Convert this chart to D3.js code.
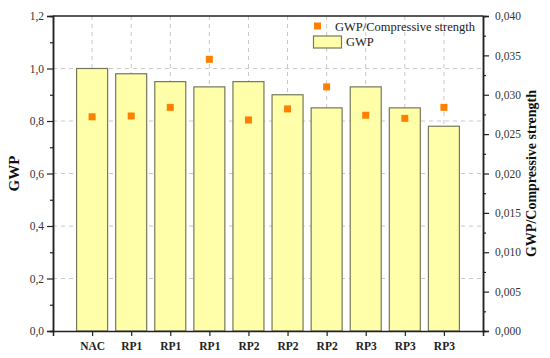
<!DOCTYPE html>
<html><head><meta charset="utf-8">
<script src="https://cdn.jsdelivr.net/npm/d3@7"></script>
<style>body{margin:0;background:#fff}svg{display:block}svg text{font-family:"Liberation Serif","Times New Roman",serif !important}</style>
</head><body>
<svg id="c" width="550" height="358"></svg>
<script>
const categories = ["NAC","RP1","RP1","RP1","RP2","RP2","RP2","RP3","RP3","RP3"];
const gwp = [1.00,0.98,0.95,0.93,0.95,0.90,0.85,0.93,0.85,0.78];
const gwpPerStrength = [0.0272,0.0273,0.0284,0.0345,0.0268,0.0282,0.0310,0.0274,0.0270,0.0284];
const leftTicks = [0,0.2,0.4,0.6,0.8,1.0,1.2];
const rightTicks = [0,0.005,0.010,0.015,0.020,0.025,0.030,0.035,0.040];

const svg = d3.select("#c");
const L=53, R=483, T=16, B=331;
const idx = d3.range(categories.length);
const x = d3.scalePoint().domain(idx).range([L,R]).padding(1);
const y = d3.scaleLinear().domain([0,1.2]).range([B,T]);
const y2 = d3.scaleLinear().domain([0,0.04]).range([B,T]);
const bw = 31;
const fmt = (d,n)=>d.toFixed(n).replace(".",",");

// grid
const g = svg.append("g");
g.selectAll(".vg").data(idx).join("line")
 .attr("x1",d=>x(d)).attr("x2",d=>x(d)).attr("y1",T).attr("y2",B)
 .attr("stroke","#c8c8c8").attr("stroke-dasharray","4,4").attr("stroke-width",1);
g.selectAll(".hg").data(leftTicks.filter(d=>d>0&&d<1.2)).join("line")
 .attr("x1",L).attr("x2",R).attr("y1",d=>y(d)).attr("y2",d=>y(d))
 .attr("stroke","#c8c8c8").attr("stroke-dasharray","4,4").attr("stroke-width",1);

// bars
svg.selectAll(".bar").data(gwp).join("rect")
 .attr("x",(d,i)=>x(i)-bw/2).attr("width",bw)
 .attr("y",d=>y(d)).attr("height",d=>B-y(d))
 .attr("fill","#ffffaa").attr("stroke","#77775a").attr("stroke-width",1.2);

// squares
const s=7;
svg.selectAll(".pt").data(gwpPerStrength).join("rect")
 .attr("x",(d,i)=>x(i)-s/2).attr("y",d=>y2(d)-s/2).attr("width",s).attr("height",s)
 .attr("fill","#ff7f00");

// axes
const ax = svg.append("g");
const leftAx = d3.axisLeft(y).tickValues(leftTicks).tickSize(6).tickPadding(3).tickFormat(d=>fmt(d,1));
ax.append("g").attr("class","ax").attr("transform",`translate(${L},0)`).call(leftAx);
const leftMinor = d3.axisLeft(y).tickValues(d3.range(0.1,1.2,0.2)).tickSize(3).tickFormat("");
ax.append("g").attr("transform",`translate(${L},0)`).call(leftMinor);
const rightAx = d3.axisRight(y2).tickValues(rightTicks).tickSize(6).tickPadding(6).tickFormat(d=>fmt(d,3));
ax.append("g").attr("class","ax").attr("transform",`translate(${R},0)`).call(rightAx);
const rightMinor = d3.axisRight(y2).tickValues(d3.range(0.0025,0.04,0.005)).tickSize(3).tickFormat("");
ax.append("g").attr("transform",`translate(${R},0)`).call(rightMinor);
const botAx = d3.axisBottom(x).tickSize(5).tickPadding(6).tickFormat(i=>categories[i]);
ax.append("g").attr("class","axb").attr("transform",`translate(0,${B})`).call(botAx);
ax.selectAll("g").attr("font-family",null);
ax.selectAll(".domain").attr("stroke","#222").attr("stroke-width",1.5);
ax.selectAll(".tick line").attr("stroke","#222").attr("stroke-width",1.2);
ax.selectAll(".ax .tick text").style("font-size","11.5px").attr("fill","#333");
ax.selectAll(".axb .tick text").style("font-weight","bold").style("font-size","11.5px").attr("fill","#222");
svg.append("line").attr("x1",L).attr("x2",R).attr("y1",T).attr("y2",T).attr("stroke","#222").attr("stroke-width",1.5);

// titles
svg.append("text").attr("transform",`translate(19,${(T+B)/2}) rotate(-90)`)
 .attr("text-anchor","middle").style("font-weight","bold").style("font-size","15px").attr("fill","#111").text("GWP");
svg.append("text").attr("transform",`translate(536,${(T+B)/2}) rotate(-90)`)
 .attr("text-anchor","middle").style("font-weight","bold").style("font-size","14px").attr("fill","#111").text("GWP/Compressive strength");

// legend
const lg = svg.append("g");
lg.append("rect").attr("x",314).attr("y",22.5).attr("width",7).attr("height",7).attr("fill","#ff7f00");
lg.append("text").attr("x",335).attr("y",30.5).style("font-size","12.5px").attr("fill","#222").text("GWP/Compressive strength");
lg.append("rect").attr("x",313.5).attr("y",36).attr("width",28).attr("height",12).attr("fill","#ffffaa").attr("stroke","#77775a").attr("stroke-width",1.2);
lg.append("text").attr("x",346).attr("y",46).style("font-size","12.5px").attr("fill","#222").text("GWP");
</script>
</body></html>
